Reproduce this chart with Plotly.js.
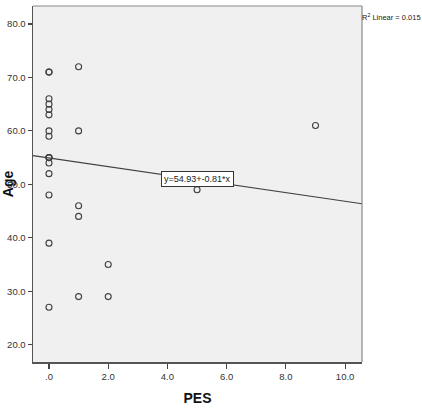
<!DOCTYPE html>
<html><head><meta charset="utf-8">
<script src="https://cdn.plot.ly/plotly-3.0.1.min.js"></script>
<style>body{margin:0;background:#fff}#c{width:422px;height:416px}</style>
</head><body><div id="c"></div>
<script>
const pes = [0,0,0,0,0,0,0,0,0,0,0,0,0,0,0,0, 1,1,1,1,1, 2,2, 5, 9];
const age = [71,71,66,65,64,63,60,59,55,55,54,52,48,39,27,55, 72,60,46,44,29, 35,29, 49, 61];
const xTicks = [0,2,4,6,8,10];
const xTickText = ['.0','2.0','4.0','6.0','8.0','10.0'];
const yTicks = [20,30,40,50,60,70,80];
const yTickText = ['20.0','30.0','40.0','50.0','60.0','70.0','80.0'];
const intercept = 54.93, slope = -0.81;
const xRange = [-0.54, 10.57];
const yRange = [16.77, 83.36];
const fitX = xRange.slice();
const fitY = fitX.map(x => intercept + slope*x);

const tickFont = {family:'Liberation Sans, Arial', size:9.5, color:'#333'};
const data = [
  {x:pes, y:age, type:'scatter', mode:'markers',
   marker:{symbol:'circle-open', size:6, color:'#404040', line:{width:1.1, color:'#404040'}},
   hoverinfo:'none'},
  {x:fitX, y:fitY, type:'scatter', mode:'lines', line:{color:'#404040', width:1.1}, hoverinfo:'none'}
];
const layout = {
  width:422, height:416, showlegend:false,
  margin:{l:33, r:60, t:6, b:54},
  paper_bgcolor:'#fff', plot_bgcolor:'#f0f0f0',
  xaxis:{range:xRange, tickvals:xTicks, ticktext:xTickText, ticks:'outside', ticklen:5, tickwidth:1.2,
    tickcolor:'#444', showgrid:false, zeroline:false, showline:true, linecolor:'#555', linewidth:1.5,
    mirror:false, tickfont:tickFont,
    title:{text:'<b>PES</b>', font:{family:'Liberation Sans, Arial', size:14, color:'#111'}, standoff:12}},
  yaxis:{range:yRange, tickvals:yTicks, ticktext:yTickText, ticks:'outside', ticklen:4, tickwidth:1.2,
    tickcolor:'#444', showgrid:false, zeroline:false, showline:true, linecolor:'#555', linewidth:1.5,
    tickfont:tickFont,
    title:{text:'<b>Age</b>', font:{family:'Liberation Sans, Arial', size:14, color:'#111'}, standoff:3}},
  shapes:[
    {type:'line', xref:'paper', yref:'paper', x0:0, x1:1, y0:1, y1:1, line:{color:'#888', width:1.2}},
    {type:'line', xref:'paper', yref:'paper', x0:1, x1:1, y0:0, y1:1, line:{color:'#888', width:1.2}}
  ],
  annotations:[
    {x:5, y:intercept+slope*5, xref:'x', yref:'y', text:'y=54.93+-0.81*x', showarrow:false,
     bgcolor:'#fff', bordercolor:'#333', borderwidth:1, borderpad:2, yshift:1,
     font:{family:'Liberation Sans, Arial', size:9, color:'#222'}},
    {x:1, y:1, xref:'paper', yref:'paper', xanchor:'left', yanchor:'top', xshift:-2, yshift:-4,
     text:'R<sup>2</sup> Linear = 0.015', showarrow:false,
     font:{family:'Liberation Sans, Arial', size:7.5, color:'#222'}}
  ]
};
Plotly.newPlot('c', data, layout, {displayModeBar:false, staticPlot:true});
</script></body></html>
